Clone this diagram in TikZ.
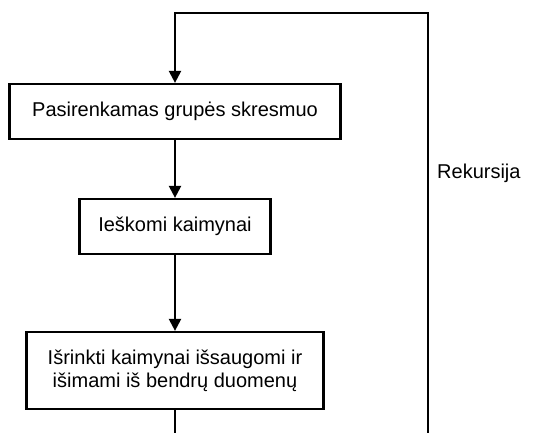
\documentclass[tikz,border=0pt]{standalone}
\usepackage{fontspec}
\setmainfont{Liberation Sans}
\usetikzlibrary{arrows.meta}
\begin{document}
\begin{tikzpicture}[x=1pt,y=-1pt,
  flowbox/.style={draw, line width=2.2pt, minimum height=55pt, inner sep=0pt, align=center,
    font=\fontsize{20}{23}\selectfont},
  conn/.style={line width=2.2pt},
  arr/.style={conn, -{Triangle[length=12pt,width=12pt]}}]
\useasboundingbox[fill=white] (0,0) rectangle (539,433);
\node[flowbox, minimum width=331pt] (b1) at (175,111.5) {Pasirenkamas grupės skresmuo};
\node[flowbox, minimum width=191pt] (b2) at (175,226.5) {Ieškomi kaimynai};
\node[flowbox, minimum width=297pt, minimum height=77pt] (b3) at (175,370.5) {Išrinkti kaimynai išsaugomi ir\\išimami iš bendrų duomenų};
\node[anchor=west, font=\fontsize{20}{23}\selectfont, inner sep=0pt] (rek) at (437,173) {Rekursija};
\coordinate (bl) at (b3.south |- 0,434);
\coordinate (br) at (428,434);
\coordinate (tr) at (428,13);
\draw[arr] (b1) -- (b2);
\draw[arr] (b2) -- (b3);
\draw[conn] (b3) -- (bl);
\draw[arr] (br) -- (tr) -| (b1.north);
\end{tikzpicture}
\end{document}
